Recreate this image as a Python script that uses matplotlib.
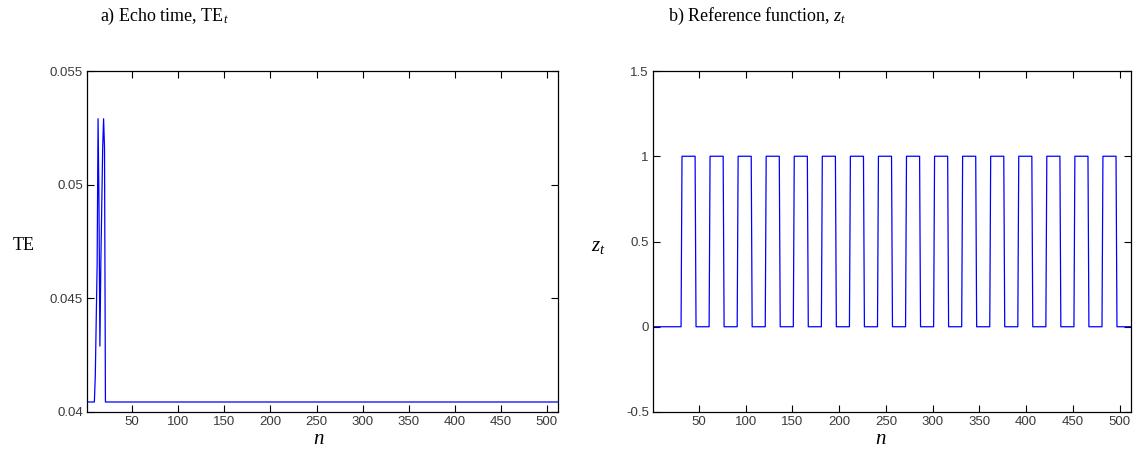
import numpy as np
import matplotlib
matplotlib.use("Agg")
import matplotlib.pyplot as plt

plt.rcParams["mathtext.fontset"] = "custom"
plt.rcParams["mathtext.it"] = "Liberation Serif:italic"
plt.rcParams["mathtext.rm"] = "Liberation Serif"
plt.rcParams["mathtext.default"] = "it"

# ---------------- data ----------------
n_scans = 512
te_baseline = 0.04044
te_spike_start = 10
te_spike_values = [0.0416, 0.0441, 0.0465, 0.0529, 0.0491, 0.0429,
                   0.0465, 0.0491, 0.0516, 0.0529, 0.0516]

block_onsets = [32, 62, 92, 122, 152, 182, 212, 242,
                272, 302, 332, 362, 392, 422, 452, 482]
block_length = 15

x_ticks = [50, 100, 150, 200, 250, 300, 350, 400, 450, 500]
te_ticks = [0.04, 0.045, 0.05, 0.055]
te_ticklabels = ["0.04", "0.045", "0.05", "0.055"]
z_ticks = [-0.5, 0, 0.5, 1, 1.5]
z_ticklabels = ["-0.5", "0", "0.5", "1", "1.5"]

# ---------------- build series ----------------
n = np.arange(1, n_scans + 1)
te = np.full(n_scans, te_baseline)
for i, v in enumerate(te_spike_values):
    te[te_spike_start - 1 + i] = v

z = np.zeros(n_scans)
for on in block_onsets:
    z[on - 1:on - 1 + block_length] = 1.0

# ---------------- figure ----------------
W, H = 1138, 463
fig = plt.figure(figsize=(W / 100, H / 100), dpi=100)

serif = "Liberation Serif"
blue = "#0000ff"


def style(ax):
    ax.tick_params(direction="in", length=5, width=0.8, top=True, right=True,
                   labelsize=9.5, colors="black", pad=3)
    for lbl in ax.get_xticklabels() + ax.get_yticklabels():
        lbl.set_family("Liberation Sans")
        lbl.set_color("#3a3a3a")
    for s in ax.spines.values():
        s.set_linewidth(0.9)
        s.set_color("black")


def box(x0, y0, x1, y1):
    return [x0 / W, 1 - y1 / H, (x1 - x0) / W, (y1 - y0) / H]


ax1 = fig.add_axes(box(87, 71, 558, 412))
ax1.plot(n, te, color=blue, lw=0.9)
ax1.set_xlim(1, n_scans)
ax1.set_ylim(0.04, 0.055)
ax1.set_xticks(x_ticks)
ax1.set_yticks(te_ticks)
ax1.set_yticklabels(te_ticklabels)
style(ax1)

ax2 = fig.add_axes(box(653, 71, 1131, 412))
ax2.plot(n, z, color=blue, lw=0.9)
ax2.set_xlim(1, n_scans)
ax2.set_ylim(-0.5, 1.5)
ax2.set_xticks(x_ticks)
ax2.set_yticks(z_ticks)
ax2.set_yticklabels(z_ticklabels)
style(ax2)

# titles
fig.text(100 / W, 1 - 16 / H, r"a) Echo time, TE$_t$", family=serif, size=13,
         ha="left", va="center")
fig.text(668 / W, 1 - 16 / H, r"b) Reference function, $z_t$", family=serif,
         size=13, ha="left", va="center")

# axis labels
fig.text(24 / W, 1 - 246 / H, "TE", family=serif, size=13, ha="center",
         va="center")
fig.text(598 / W, 1 - 246 / H, r"$z_t$", family=serif, size=15, ha="center",
         va="center")
fig.text(318 / W, 1 - 440 / H, "n", family=serif, style="italic", size=15,
         ha="center", va="center")
fig.text(880 / W, 1 - 440 / H, "n", family=serif, style="italic", size=15,
         ha="center", va="center")

fig.savefig("out.png", dpi=100, facecolor="white")
